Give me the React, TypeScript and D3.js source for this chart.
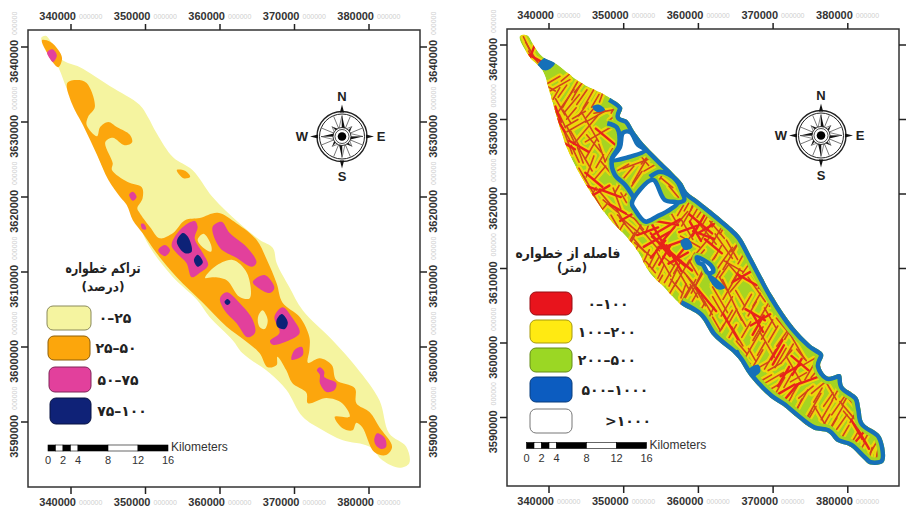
import React from 'react';
import * as d3 from 'd3';

type P = [number, number];

// map positions below are km east of 340000 and km south of 3640000
const EASTINGS = [340000, 350000, 360000, 370000, 380000];
const NORTHINGS = [3640000, 3630000, 3620000, 3610000, 3600000, 3590000];
const SCALE_KM = [0, 2, 4, 8, 12, 16];
const SCALE_BLOCKS = [0, 1, 2, 3, 4, 8, 12, 16];
const COMPASS_ANGLES = d3.range(0, 360, 45);
const COMPASS_MINOR = d3.range(22.5, 360, 45);

const densityOutline: P[] = [[-4, -1.2], [-3.4, -1.5], [-2.5, -0.4], [-1.2, 1.7], [1.2, 2.7], [5.2, 5.2], [9.2, 7.7], [10.3, 9.3], [11.5, 11.5], [13.7, 14.7], [16.3, 16.4], [19, 20], [22.6, 23.5], [25.3, 25.7], [27.1, 26.8], [27.6, 28.8], [29.3, 32], [31.1, 35.1], [35.1, 39.1], [38.3, 42.7], [41.4, 47.1], [42.7, 51.5], [45, 53.3], [45.4, 55.5], [44.1, 56.1], [41.8, 55.1], [40.1, 53.3], [36.4, 52.4], [33.8, 51.1], [31.1, 49.3], [28.9, 45.7], [26.7, 43.5], [23, 40.8], [21.7, 39.1], [18.6, 36], [16.9, 33.7], [13.7, 30.7], [10.6, 26.7], [8.3, 22.1], [6.6, 19.7], [4.6, 16.7], [1.6, 9.7], [-0.5, 5.7], [-1.7, 2.7]];

const orangeZones: P[][] = [
  [[-3.9, -0.9], [-2.8, -0.7], [-1.7, 0.4], [-1.2, 1.5], [-1.7, 2.7], [-2.4, 2.1], [-3.2, 0.8]],
  [[14.2, 16.4], [15.3, 16.5], [16, 17.3], [15.1, 17.5]],
  [[-0.5, 4.8], [0.8, 4.4], [2.1, 4.8], [3.2, 8], [2.3, 9.3], [2.1, 10.4], [3.5, 11.9], [3.9, 10.7], [5, 10], [6.2, 10.7], [7.9, 11.7], [8.2, 12.7], [7.2, 13.1], [5.6, 12.1], [4.6, 12.7], [5.6, 15.5], [5.5, 16.4], [7.6, 18], [9.5, 18.7], [9.6, 20.2], [8.9, 21.5], [9.2, 22.1], [10.6, 24], [11.9, 25.5], [13.7, 24.8], [15.3, 23.1], [17.3, 22.8], [19.7, 22.1], [22.2, 23.5], [24.9, 25.7], [26.3, 28.4], [27.6, 31.5], [28.4, 34.1], [30.7, 36], [32, 38.7], [32, 40.4], [31.8, 42.1], [33.4, 41.5], [35, 42.4], [35.6, 44.4], [38.1, 45.5], [38.3, 47.5], [40.1, 48.7], [41.4, 50.7], [43.1, 53.3], [42.3, 54.4], [40.7, 54], [39.1, 50.7], [38.3, 50.1], [37.8, 51.1], [36.4, 50.8], [35.4, 49.3], [37.4, 49.3], [36.4, 47.5], [34.3, 46.8], [31.8, 47.5], [31.6, 46.1], [29.7, 44.8], [28.9, 43.1], [27.7, 41.3], [27.6, 42.4], [26.4, 42.7], [25.3, 40.8], [23.3, 39.1], [20.9, 37.3], [17.7, 34.1], [14.2, 30.7], [11.5, 27.5], [9.6, 24.8], [8.3, 23.1], [7.5, 21.1], [6.6, 20], [5, 17.7], [3.5, 14.4], [1.6, 10.4], [0.1, 7.5]],
];

const paleHoles: P[][] = [
  [[17, 25.7], [17.8, 24.9], [18.8, 26.4], [18.8, 27.3], [17.8, 26.8]],
  [[18, 30.8], [19.3, 29.3], [21.7, 28.4], [23.6, 30.1], [24, 33.5], [22.6, 33.3], [20.9, 31.1], [19, 30.7]],
  [[25.1, 36], [25.7, 35.1], [26.4, 36.4], [26, 37.6], [25.3, 37.3]],
];

const pinkZones: P[][] = [
  [[-3.2, 0.7], [-2.5, 0.3], [-1.9, 1.1], [-2.4, 2], [-2.8, 1.6]],
  [[7.8, 19.7], [8.3, 19.3], [8.8, 20], [8.3, 20.5]],
  [[9.4, 23.6], [9.8, 23.6], [10.1, 24.3], [9.6, 24.3]],
  [[13.5, 26.4], [14.9, 24.1], [16.6, 23.2], [17, 24], [16.6, 25.5], [17.7, 27.5], [18.4, 29.1], [17.3, 30.1], [16.2, 30.7], [15.5, 28.8], [14.2, 27.5]],
  [[11.7, 27.1], [12.6, 26.4], [13.3, 27.1], [12.6, 27.9]],
  [[19, 24], [20.2, 23.3], [21.3, 24.8], [23.6, 26.7], [24.9, 28.7], [24.3, 29.3], [22.2, 28.1], [20, 26.8]],
  [[24.4, 31.3], [26, 30.4], [27.3, 32.1], [26.7, 32.8], [25.1, 32.1]],
  [[20, 33.5], [20.9, 32.7], [22.6, 34.1], [24.4, 36.4], [24.7, 38.1], [23.7, 38.7], [22.2, 36.8], [20.6, 35.1]],
  [[27.3, 36], [28.4, 34.7], [29.7, 36.1], [30.7, 38.1], [29.3, 39.1], [27.1, 39.7], [26.7, 39.2], [28, 38.1]],
  [[29.6, 41.7], [30, 40.4], [31, 40], [31.1, 41.1]],
  [[33, 43.1], [33.4, 42.7], [34, 43.3], [34, 44], [35.6, 44.8], [35.4, 45.7], [34.3, 46], [33.4, 44.8], [33.4, 43.7]],
  [[40.7, 52.4], [41.1, 51.5], [42.1, 52.1], [42.3, 53.3], [41.7, 53.6], [41, 53.2]],
];

const navyZones: P[][] = [
  [[14.2, 26], [15, 24.8], [15.7, 25.3], [16.2, 27.3], [15.3, 27.5]],
  [[16.5, 28.4], [17, 27.7], [17.7, 28.7], [17, 29.3]],
  [[20.6, 34], [21, 33.6], [21.4, 34], [21, 34.4]],
  [[27.6, 36.4], [28.3, 35.6], [29.1, 36.7], [28.7, 37.6], [27.7, 37.3]],
];

const studyOutline: P[] = [[-3.9, -1.2], [-2.9, -1.3], [-1.9, 0.3], [-0.8, 1.6], [0.8, 2.4], [4.2, 5], [8.2, 7.1], [9.8, 8.4], [9.5, 9.6], [10.5, 10.1], [11.5, 11.7], [13.1, 13.7], [16.6, 17.2], [17.8, 18.5], [18.5, 19.7], [20.2, 21], [24.3, 24.4], [25.6, 25.7], [27.3, 28.8], [30, 33.8], [32.7, 37.8], [35, 40.2], [36.7, 41.5], [36.3, 43.1], [37.3, 44.5], [39, 44.2], [39.4, 45.8], [41.3, 47.3], [41.7, 48.9], [42.1, 50.7], [44.4, 52.5], [44.8, 56], [43, 56.3], [42.1, 55.6], [40.3, 53.9], [38.6, 53.3], [37.3, 52], [35.4, 51.6], [32.7, 49.6], [31.4, 48.5], [29.6, 47.3], [26.9, 44.5], [25.2, 41.9], [22, 39.1], [20.2, 36.4], [17.6, 34.8], [15.3, 32.4], [13.5, 30.6], [11.5, 27.1], [8.2, 23.5], [7.8, 23], [5.1, 19], [2.5, 14.1], [0.5, 7.8], [-0.9, 3.4], [-2.5, 1.7], [-3.9, -0.7]];

const farHoles: P[][] = [
  [[9.9, 11.8], [10.9, 11.7], [11.9, 13.4], [12.9, 14.1], [10.5, 15.1], [8.4, 15.4], [9.5, 13.7]],
  [[13.9, 18.1], [15.5, 20.8], [17.2, 21.2], [16.2, 22.1], [14.5, 23], [12.9, 23.7], [11.5, 22.1], [11.1, 21.2]],
  [[19.8, 28.5], [21.6, 29.5], [22, 30.4], [21.3, 30.6], [20.6, 29.5], [20, 29.2]],
];

const blueRuns: P[][] = [
  [[7.8, 10.5], [9.1, 11.1], [9.4, 13.4], [8.4, 15.4], [8.8, 17.4], [10.2, 18.8], [11.3, 20.4]],
  [[13.5, 17.7], [14.9, 17], [17, 18.1], [17.8, 19.7], [18.1, 20.8], [16.9, 21.2]],
];

const blueBlobs: P[][] = [
  [[5.8, 8.3], [6.6, 8], [7.5, 8.7], [6.4, 9]],
  [[-1.6, 2.9], [-0.3, 1.6], [0.8, 2.4], [-0.3, 3.4]],
  [[17.6, 26.4], [18.5, 25.9], [19.2, 27.1], [18.2, 27.5]],
  [[21.2, 30.6], [23.6, 32.6], [22.6, 32.8], [21.3, 31.2]],
  [[26.7, 43.6], [28, 42.9], [28.3, 43.8], [27.2, 44.6]],
  [[24.7, 41.3], [25.3, 40.9], [25.6, 41.9], [24.9, 41.9]],
];

// fractures: east km, south km, length km, strike in degrees
const fractures: number[][] = [
  [-2.5, 0.7, 2.5, 150], [-2.1, 1.6, 2, 140], [-3, -0.2, 2, 155], [0.6, 4.7, 2, 60], [2.4, 4.2, 2, 50], [1.5, 5.4, 3, 60], [0.2, 5.8, 1.5, 120], [4.2, 5.4, 2.5, 40], [2.8, 6.7, 4, 30], [2.2, 7.6, 4, 35], [1.5, 8.3, 2.5, 150], [3.1, 7.8, 3, 40], [5.3, 7.2, 3, 30], [7.1, 6.7, 2, 20], [8.7, 8.5, 1.5, 30], [7.5, 8.9, 3, 80], [6.2, 9.6, 3, 60], [4, 9.4, 2, 60], [3.7, 10.9, 3, 60], [2.4, 9.6, 2, 150], [2, 11.4, 3, 150], [2.6, 13.2, 3, 160], [4.9, 11.4, 5, 40], [5.5, 11, 4.5, 150], [6.6, 12, 4, 60], [6, 13.2, 3, 140], [7.1, 14.5, 2.5, 160], [4.9, 15.4, 3.5, 150], [5.5, 16.3, 3, 20], [7.3, 20.3, 2.5, 140], [9.1, 20.6, 3, 160], [10.2, 22.6, 4, 120], [10.7, 24.1, 4, 130], [9.6, 23, 2.5, 150],
  [11.8, 15.9, 4, 70], [10.4, 17.4, 3, 40], [12.2, 16.8, 4, 30], [11.3, 18.6, 4, 35], [12.7, 15.4, 2, 140], [15.4, 16.8, 3.5, 135], [16.7, 17.7, 2.5, 130], [16.7, 19.7, 2, 140], [13.8, 16.3, 2.5, 60], [19.4, 21, 2.5, 20], [21.2, 23, 2.5, 30], [18.5, 23, 3, 30], [17.6, 23.5, 3, 40], [22.5, 24.8, 3, 140], [21.2, 24.8, 3, 30], [18.5, 24.8, 3, 150],
  [13.5, 26.1, 4, 140], [12.6, 27.5, 3, 130], [11.7, 25.2, 3, 30], [10.4, 24.3, 3, 140], [9.5, 24.8, 2, 30], [8.8, 23.7, 2, 150], [19.3, 25.2, 3, 35], [21.1, 25.2, 4, 140], [22.5, 25.5, 3, 30], [23.4, 27, 4, 145], [24.3, 28.4, 4, 30], [18.9, 26.4, 3, 120], [20.7, 26.8, 3, 40], [14, 28.4, 3, 25], [15.3, 29.3, 4, 150], [16.7, 31, 3, 25], [17.8, 30.6, 4, 30], [18.9, 31.5, 3, 140], [19.8, 32, 3, 30], [21.1, 34.9, 3, 150], [19.3, 34.2, 3, 30], [22.9, 34.2, 4, 150], [23.8, 35.1, 3, 30], [24.3, 32.4, 4, 30], [24.7, 30.2, 3, 140], [18.2, 33.7, 3, 30], [17.1, 32.4, 2.5, 140],
  [16.2, 30.6, 3, 30], [18, 31.5, 3, 150], [20.2, 31, 3, 25], [19.3, 32.2, 3, 145], [20.2, 33.7, 3, 150], [18.9, 32.8, 3, 30], [22.9, 35.5, 4, 150], [23.8, 36.9, 3, 30], [25.2, 39.1, 3, 150], [26, 42, 2.5, 130], [23.4, 28.8, 4, 35], [24.5, 27.5, 3, 150], [24.7, 29.7, 3, 120], [25.2, 32, 3, 40], [24.5, 34.2, 6, 155], [27.8, 32.8, 4, 145], [28.9, 35.5, 4, 30], [29.6, 36.6, 3, 150], [29.2, 38.2, 3, 30], [27.4, 40, 5, 30], [29.2, 40.2, 4, 150], [30.5, 35.5, 3, 140], [31.4, 37.8, 3, 140], [32.3, 38.2, 3, 30], [33.2, 40.4, 4, 150], [29.6, 42.2, 3, 30], [35, 42.4, 2, 60], [32.8, 43.6, 4, 150], [30.1, 44.7, 3, 60], [28.7, 44.9, 2.5, 60], [36.3, 45.8, 3, 50], [37.7, 46.3, 3, 150], [33.9, 47.6, 3, 30], [35.4, 48.5, 4, 30], [36.3, 49.8, 3, 150], [37.2, 49, 3, 30], [39, 48, 4, 35], [39.9, 49, 3, 140], [38.6, 49.8, 3, 30], [40.8, 52.9, 2.5, 30], [43.5, 53.9, 2, 30], [43.9, 55.2, 2, 10], [40.4, 50.3, 3, 140], [35, 49.8, 3, 30], [33.2, 48.9, 3, 25],
  [1, 6.5, 1.8, 30], [1.8, 6.2, 2, 35], [3.6, 6.4, 2.2, 30], [4.4, 7, 2.4, 35], [6.2, 7.5, 2, 30], [1.2, 9.5, 2, 150], [1.8, 10.2, 2, 155], [3, 9.2, 2, 40], [3, 10.5, 2, 60], [4.6, 8.6, 2.2, 35], [5.6, 9, 2, 40], [2.9, 12, 2.4, 155], [3.5, 12.6, 2.4, 150], [3.5, 14.6, 2.5, 155], [4.2, 14.8, 2.2, 160], [5.6, 14, 3, 30], [6.8, 15.6, 2, 30], [8, 14.8, 2, 30], [7.6, 16.4, 2, 140], [6.8, 17.2, 2.5, 40], [4.5, 17.4, 2, 150], [5.2, 18.6, 2.5, 150], [5.8, 20, 2, 30], [6.5, 21, 2.5, 150], [7.2, 22, 2, 40], [8.2, 21.6, 2.5, 130], [9.3, 19, 2, 30], [10, 20.5, 1.5, 150], [9.8, 16.5, 2, 60], [8.8, 9.5, 1.8, 50],
  [13, 15.2, 2, 40], [14.4, 15.4, 1.5, 130], [14.6, 18.4, 2, 30], [15.8, 18.5, 2, 130], [18.6, 21.4, 2, 30], [19.5, 22.6, 2.5, 30], [20.4, 22.3, 2, 35], [17.6, 22.2, 1.6, 30], [22.4, 23.6, 2, 35], [23.4, 24.5, 2, 30], [16.6, 23, 2, 150], [13.2, 24.5, 2, 20], [12, 24, 2, 140],
  [11, 26, 2, 30], [12, 26.8, 2.5, 140], [11.5, 27.8, 2, 25], [13, 28.4, 2, 25], [14.3, 29.2, 2, 30], [13.6, 29.8, 2, 140], [15, 30.4, 2, 25], [14.8, 31.6, 1.6, 30], [16.6, 32.6, 2.2, 30], [18, 33, 2, 20], [19.4, 33, 2, 150], [20.4, 35.4, 2, 30], [21.6, 36.2, 2.2, 25], [22.4, 37.4, 2, 150], [23, 38.2, 1.6, 30], [24.6, 38.4, 2, 30], [25.8, 40.6, 2.2, 140], [24.6, 36.4, 2.2, 30], [25.8, 36.8, 2.2, 150], [26.4, 38.2, 2.4, 30], [27.8, 38.8, 2, 30], [26.5, 34.5, 2.4, 30], [27.2, 35.4, 2.2, 30], [25.6, 34, 2.4, 150], [25, 31, 2.2, 30], [26.5, 29.8, 2, 35], [27.5, 30.8, 2, 145], [28.5, 31.8, 2, 30], [29, 33.6, 2.4, 140], [30, 34.2, 2, 30], [31, 36, 2, 140], [27.8, 34.2, 2, 30], [22.4, 31.2, 2, 30], [23.3, 32, 2, 150], [21.8, 29, 2, 35], [22.6, 27.8, 2, 30], [23.4, 30.4, 2, 35], [25, 27, 2, 40], [25.8, 28.5, 2, 30], [20.2, 28.2, 1.8, 40], [19, 28.8, 2, 30], [19.4, 30, 2, 150], [17.2, 29.8, 2, 30], [16, 29, 2, 130],
  [28.4, 40.8, 2, 30], [30, 38.8, 2.5, 30], [31.2, 39.4, 2.5, 35], [32.2, 41, 2, 30], [33.8, 41.6, 2, 140], [31, 42, 3, 30], [30.2, 43.2, 2, 60], [31.8, 41.8, 2.2, 40], [28, 42, 2.5, 30], [27.2, 41.6, 2, 150], [28.6, 43, 2, 60], [31, 45.6, 2.2, 30], [32, 45, 2.2, 30], [33.4, 44.6, 2.5, 60], [34.8, 44, 2.2, 30], [35.8, 43.8, 2.2, 40], [36, 47, 2.2, 30], [37.4, 47.6, 2.2, 35], [38.4, 46.8, 2, 30], [33, 46.2, 2, 30], [34.4, 46.6, 2.5, 50], [30, 46, 2, 60], [32, 48, 2, 30], [34.6, 50, 2, 30], [37, 50.6, 2.4, 30], [38, 51, 2.2, 30], [39.2, 50.6, 2.4, 35], [39.8, 47.4, 2.2, 30], [40.4, 47.8, 2, 140], [40.8, 49.8, 2, 30], [41.4, 50.4, 2, 150], [39.6, 52, 2.2, 30], [42.6, 52.4, 2, 30], [43, 55, 2, 15], [44, 54.5, 2.4, 10], [41.8, 54.2, 1.6, 30],
];

const denseFractures: number[][] = [
  [4, 13.6, 3, 120], [7.8, 12.5, 4, 130], [6, 18.1, 3, 130], [8.2, 19.9, 3, 110], [20.3, 24, 4, 130], [15.8, 24.4, 4, 60], [14.5, 25.3, 4, 150], [15.8, 23.9, 3, 100], [14.4, 26.1, 4, 60], [15.3, 27, 4, 130], [16.7, 28.4, 4, 130], [17.6, 27.9, 3, 40], [20.2, 23.9, 4, 30], [20.7, 25.5, 3, 110], [14.9, 26.8, 4, 140], [16.7, 28.6, 4, 150], [18, 29.3, 3, 130], [21.1, 34.2, 4, 140], [24.3, 37.8, 4, 150], [22, 27, 3, 130], [26.5, 31.5, 3, 120], [28.3, 36.9, 3, 60], [27.9, 37.2, 3, 150], [30.5, 40.9, 3, 30], [31.4, 44.5, 3, 30], [33.6, 42.7, 3, 130], [32.3, 46.7, 3, 40], [34.5, 45.1, 3, 70], [41.2, 51.6, 3, 150], [42.1, 52.9, 3, 150],
  [13.2, 25, 3, 70], [14.6, 27.4, 3, 40], [15.8, 25.6, 3, 40], [16.4, 26.8, 3, 70], [17.3, 28.6, 3, 60], [15.5, 28.2, 3, 30], [18.6, 24.7, 2.5, 70], [19.6, 25, 3, 150], [20.9, 24.7, 2.5, 60], [5.2, 19, 2.5, 110], [7, 19.5, 2.5, 60], [9.2, 22, 2.5, 120], [10.6, 23, 2.5, 60], [-2.2, 0.8, 2.5, 20], [-1.8, 1.8, 2, 120], [2.6, 13.5, 2, 120], [1.6, 10.8, 2, 150], [1.2, 9.2, 2, 160], [26, 31, 3, 60], [28, 37.6, 3, 30], [27.6, 36.2, 3, 120], [32.3, 43.7, 3, 60], [33.2, 43.2, 2.5, 30], [42, 52.1, 3, 40], [41.5, 50.9, 2.5, 150], [30.7, 41.6, 3, 30], [31.8, 46.2, 2.5, 60],
];

const DENSITY_LEGEND = ['۰–۲۵', '۲۵–۵۰', '۵۰–۷۵', '۷۵–۱۰۰'];
const DENSITY_COLORS = ['#f5f4a0', '#fca60c', '#e2409c', '#0f2277'];
const DISTANCE_LEGEND = ['۰–۱۰۰', '۱۰۰–۲۰۰', '۲۰۰–۵۰۰', '۵۰۰–۱۰۰۰', '>۱۰۰۰'];
const DISTANCE_COLORS = ['#e8141c', '#ffea12', '#9bd724', '#0c5cc0', '#ffffff'];

const closed = d3.line().curve(d3.curveCatmullRomClosed.alpha(0.5));
const open = d3.line().curve(d3.curveCatmullRom.alpha(0.5));
const tri = d3.line().curve(d3.curveLinearClosed);
const SANS = '"Liberation Sans", Arial, sans-serif';
const ARABIC = '"DejaVu Sans", sans-serif';

type Frame = { left: number; right: number; top: number; bottom: number; x0: number; x40: number; y0: number; y50: number };

const makeProject = (f: Frame) => {
  const x = d3.scaleLinear().domain([340000, 380000]).range([f.x0, f.x40]);
  const y = d3.scaleLinear().domain([3640000, 3590000]).range([f.y0, f.y50]);
  const pt = (d: number[]): P => [x(340000 + d[0] * 1000), y(3640000 - d[1] * 1000)];
  return { x, y, pt };
};

const Axes = ({ f, labelsRight }: { f: Frame; labelsRight: boolean }) => {
  const { x, y } = makeProject(f);
  const rotated = (tx: number, py: number, v: number) => (
    <g key={tx + '-' + v} transform={`translate(${tx},${py}) rotate(-90)`}>
      <text x={7} y={4} textAnchor="end" fontSize={11} fontWeight="bold" fill="#333" fontFamily={SANS}>{v}</text>
      <text x={12} y={3} fontSize={7} fill="#cfcfcf" fontFamily={SANS}>000000</text>
    </g>
  );
  return (
    <g>
      <rect x={f.left} y={f.top} width={f.right - f.left} height={f.bottom - f.top} fill="none" stroke="#333" strokeWidth={1.5} />
      {EASTINGS.map(v => (
        <g key={v}>
          <line x1={x(v)} x2={x(v)} y1={f.top} y2={f.top - 6} stroke="#222" strokeWidth={1.5} />
          <line x1={x(v)} x2={x(v)} y1={f.bottom} y2={f.bottom + 7} stroke="#222" strokeWidth={1.5} />
          {[f.top - 10, f.bottom + 19].map(ty => (
            <g key={ty}>
              <text x={x(v) + 5} y={ty} textAnchor="end" fontSize={11} fontWeight="bold" fill="#333" fontFamily={SANS}>{v}</text>
              <text x={x(v) + 8} y={ty - 1} fontSize={7} fill="#cfcfcf" fontFamily={SANS}>000000</text>
            </g>
          ))}
        </g>
      ))}
      {NORTHINGS.map(v => (
        <g key={v}>
          <line x1={f.left} x2={f.left - 7} y1={y(v)} y2={y(v)} stroke="#222" strokeWidth={1.5} />
          <line x1={f.right} x2={f.right + 7} y1={y(v)} y2={y(v)} stroke="#222" strokeWidth={1.5} />
          {rotated(f.left - 14, y(v), v)}
          {labelsRight && rotated(f.right + 13, y(v), v)}
        </g>
      ))}
    </g>
  );
};

const Compass = ({ cx, cy }: { cx: number; cy: number }) => {
  const pr = (deg: number, r: number) => d3.pointRadial((deg * Math.PI) / 180, r);
  const blade = (deg: number, r: number, w: number, side: number) =>
    tri([pr(deg, r), pr(deg + side * w, 7), pr(deg, 3)] as P[]) as string;
  return (
    <g transform={`translate(${cx},${cy})`}>
      <circle r={25} fill="#fff" stroke="#222" strokeWidth={1.4} />
      <circle r={22.5} fill="none" stroke="#222" strokeWidth={1} />
      {COMPASS_MINOR.map(a => (
        <line key={a} x1={pr(a, 6)[0]} y1={pr(a, 6)[1]} x2={pr(a, 22)[0]} y2={pr(a, 22)[1]} stroke="#555" strokeWidth={0.8} />
      ))}
      {COMPASS_ANGLES.map(a => (
        <g key={a}>
          <path d={blade(a, a % 90 === 0 ? 21 : 14, 30, 1)} fill="#111" />
          <path d={blade(a, a % 90 === 0 ? 21 : 14, 30, -1)} fill="#fff" stroke="#111" strokeWidth={0.5} />
        </g>
      ))}
      {[0, 90, 180, 270].map(a => (
        <path key={a} d={tri([pr(a, 32), pr(a - 5, 24), pr(a + 5, 24)] as P[]) as string} fill="#111" />
      ))}
      <circle r={9} fill="#fff" stroke="#222" strokeWidth={0.9} />
      <circle r={7} fill="none" stroke="#222" strokeWidth={0.8} />
      <circle r={4.3} fill="#000" />
      {[['N', 0, -40], ['S', 0, 40], ['E', 39, 0], ['W', -40, 0]].map(([t, dx, dy]) => (
        <text key={t as string} x={dx as number} y={(dy as number) + 4.5} textAnchor="middle" fontSize={13} fontWeight="bold" fill="#222" fontFamily={SANS}>{t}</text>
      ))}
    </g>
  );
};

const ScaleBar = ({ x0, y0 }: { x0: number; y0: number }) => {
  const k = d3.scaleLinear().domain([0, 16]).range([x0, x0 + 120]);
  return (
    <g>
      {SCALE_BLOCKS.slice(0, -1).map((b, i) => (
        <rect key={b} x={k(b)} y={y0} width={k(SCALE_BLOCKS[i + 1]) - k(b)} height={6} fill={i % 2 ? '#fff' : '#000'} stroke="#000" strokeWidth={0.6} />
      ))}
      {SCALE_KM.map(v => (
        <text key={v} x={k(v)} y={y0 + 19} textAnchor="middle" fontSize={11} fill="#333" fontFamily={SANS}>{v}</text>
      ))}
      <text x={k(16) + 3} y={y0 + 6} fontSize={12} fill="#333" fontFamily={SANS}>Kilometers</text>
    </g>
  );
};

type LegendRow = { label: string; color: string; x: number; y: number; w: number; h: number; tx: number };

const Legend = ({ rows, edge }: { rows: LegendRow[]; edge: (c: string) => string }) => (
  <g>
    {rows.map(r => (
      <g key={r.label}>
        <rect x={r.x} y={r.y} width={r.w} height={r.h} rx={6} fill={r.color} stroke={edge(r.color)} strokeWidth={1} />
        <text x={r.tx} y={r.y + r.h / 2 + 5} textAnchor="middle" fontSize={14} fontWeight="bold" fill="#222" fontFamily={ARABIC}>{r.label}</text>
      </g>
    ))}
  </g>
);

const DensityMap = ({ f }: { f: Frame }) => {
  const { pt } = makeProject(f);
  const poly = (z: P[]) => closed(z.map(pt)) as string;
  return (
    <g filter="url(#soft)">
      <path d={poly(densityOutline)} fill={DENSITY_COLORS[0]} />
      {orangeZones.map((z, i) => <path key={i} d={poly(z)} fill={DENSITY_COLORS[1]} />)}
      {paleHoles.map((z, i) => <path key={i} d={poly(z)} fill={DENSITY_COLORS[0]} />)}
      {pinkZones.map((z, i) => <path key={i} d={poly(z)} fill={DENSITY_COLORS[2]} />)}
      {navyZones.map((z, i) => <path key={i} d={poly(z)} fill={DENSITY_COLORS[3]} />)}
    </g>
  );
};

const DistanceMap = ({ f }: { f: Frame }) => {
  const { pt } = makeProject(f);
  const poly = (z: P[]) => closed(z.map(pt)) as string;
  const run = (z: P[]) => open(z.map(pt)) as string;
  const ends = (d: number[]): P[] => {
    const a = (d[3] * Math.PI) / 180;
    const h = d[2] / 2;
    return [pt([d[0] - h * Math.sin(a), d[1] + h * Math.cos(a)]), pt([d[0] + h * Math.sin(a), d[1] - h * Math.cos(a)])];
  };
  const seg = (d: number[]) => d3.line()(ends(d)) as string;
  const all = fractures.concat(denseFractures);
  const GREEN = '#a5d420';
  const BLUE = '#1470b8';
  const rim = run(studyOutline.slice(6, 46));
  return (
    <g filter="url(#soft)">
      <clipPath id="study"><path d={poly(studyOutline)} /></clipPath>
      <g clipPath="url(#study)">
        <path d={poly(studyOutline)} fill={GREEN} />
        <g stroke="#ecd60f" strokeWidth={6} strokeLinecap="round">
          {all.map((d, i) => <path key={i} d={seg(d)} />)}
        </g>
        <g stroke="#d2441a" strokeWidth={1.6} strokeLinecap="round">
          {fractures.map((d, i) => <path key={i} d={seg(d)} />)}
        </g>
        <g stroke="#e8241a" strokeWidth={2.4} strokeLinecap="round">
          {denseFractures.map((d, i) => <path key={i} d={seg(d)} />)}
        </g>
        <path d={rim} fill="none" stroke={GREEN} strokeWidth={15} />
        {farHoles.map((z, i) => <path key={i} d={poly(z)} fill="none" stroke={GREEN} strokeWidth={9} />)}
        {blueRuns.map((z, i) => <path key={i} d={run(z)} fill="none" stroke={GREEN} strokeWidth={8} strokeLinejoin="round" />)}
        {blueBlobs.map((z, i) => <path key={i} d={poly(z)} fill={BLUE} />)}
        {blueRuns.map((z, i) => <path key={i} d={run(z)} fill="none" stroke={BLUE} strokeWidth={4.5} strokeLinejoin="round" />)}
        <path d={rim} fill="none" stroke={BLUE} strokeWidth={9} />
        {farHoles.map((z, i) => <path key={i} d={poly(z)} fill="#fff" stroke={BLUE} strokeWidth={4.5} />)}
      </g>
    </g>
  );
};

const LEFT: Frame = { left: 28, right: 420, top: 30, bottom: 487, x0: 71, x40: 369, y0: 47, y50: 422 };
const RIGHT: Frame = { left: 507, right: 899, top: 29, bottom: 486, x0: 549, x40: 847.8, y0: 45, y50: 417.5 };

const densityRows: LegendRow[] = DENSITY_LEGEND.map((label, i) => ({
  label, color: DENSITY_COLORS[i],
  x: [47, 48, 49, 50][i], y: [306, 336, 367, 398][i], w: [44, 42, 42, 41][i], h: [24, 24, 25, 26][i], tx: [115, 116, 118, 122][i],
}));
const distanceRows: LegendRow[] = DISTANCE_LEGEND.map((label, i) => ({
  label, color: DISTANCE_COLORS[i],
  x: 530, y: [292, 320, 348, 377, 409][i], w: 42, h: [23, 23, 24, 25, 24][i], tx: [608, 607, 607, 615, 628][i],
}));

export default function App() {
  return (
    <svg width={907} height={507} style={{ position: 'absolute', left: 0, top: 0, background: '#fff' }}>
      <defs>
        <filter id="soft" x="-5%" y="-5%" width="110%" height="110%">
          <feGaussianBlur stdDeviation={0.6} />
        </filter>
      </defs>
      <DensityMap f={LEFT} />
      <DistanceMap f={RIGHT} />
      <Axes f={LEFT} labelsRight={true} />
      <Axes f={RIGHT} labelsRight={false} />
      <Compass cx={342} cy={136.5} />
      <Compass cx={821} cy={135.5} />
      <ScaleBar x0={48} y0={445} />
      <ScaleBar x0={526.5} y0={442.5} />
      <Legend rows={densityRows} edge={c => d3.color(c)!.darker(1.6).formatHex()} />
      <Legend rows={distanceRows} edge={c => (c === '#ffffff' ? '#777' : d3.color(c)!.darker(1.2).formatHex())} />
      <g fontFamily={ARABIC} fontWeight="bold" fontSize={14} fill="#222" textAnchor="middle">
        <text x={103} y={273} textLength={75} lengthAdjust="spacingAndGlyphs">تراکم خطواره</text>
        <text x={103} y={291} fontSize={13} textLength={43} lengthAdjust="spacingAndGlyphs">(درصد)</text>
        <text x={568} y={258} textLength={105} lengthAdjust="spacingAndGlyphs">فاصله از خطواره</text>
        <text x={572} y={272} fontSize={13} textLength={30} lengthAdjust="spacingAndGlyphs">(متر)</text>
      </g>
    </svg>
  );
}
